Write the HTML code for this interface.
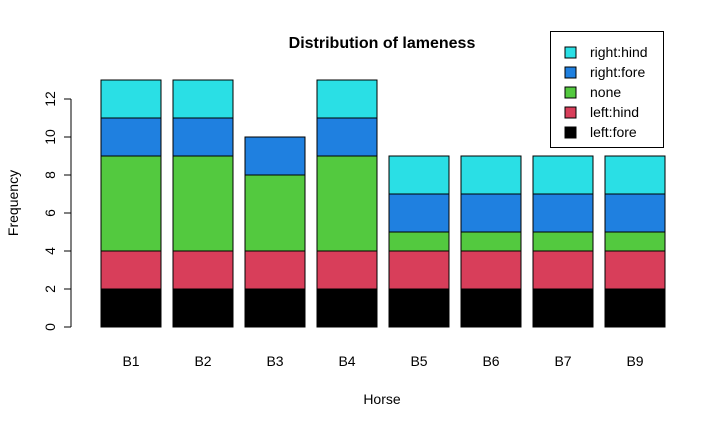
<!DOCTYPE html>
<html><head><meta charset="utf-8"><style>
html,body{margin:0;padding:0;background:#fff;}
svg{display:block;font-family:"Liberation Sans",Arial,sans-serif;}
</style></head><body>
<svg id="c" width="726" height="428" viewBox="0 0 726 428">
<text x="382" y="48" text-anchor="middle" font-weight="bold" font-size="16">Distribution of lameness</text>
<text x="382" y="404" text-anchor="middle" font-size="14">Horse</text>
<text transform="translate(18,203) rotate(-90)" text-anchor="middle" font-size="14">Frequency</text>
<g id="bars"></g><g id="yaxis"></g><g id="xlabels"></g><g id="legend"></g>
</svg>
<script>
const categories = ["B1","B2","B3","B4","B5","B6","B7","B9"];
const leftFore  = [2,2,2,2,2,2,2,2];
const leftHind  = [2,2,2,2,2,2,2,2];
const none      = [5,5,4,5,1,1,1,1];
const rightFore = [2,2,2,2,2,2,2,2];
const rightHind = [2,2,0,2,2,2,2,2];
const yTicks = [0,2,4,6,8,10,12];
const seriesNames = ["left:fore","left:hind","none","right:fore","right:hind"];
const seriesColors = ["#000000","#D83E5A","#53C93F","#1F80E0","#2ADFE5"];
const seriesData = [leftFore,leftHind,none,rightFore,rightHind];

const NS="http://www.w3.org/2000/svg";
function y(v){return 327 - v*19;}
function xLeft(i){return 101 + i*72;}
const barW=60;
function mk(tag,attrs,parent){const e=document.createElementNS(NS,tag);for(const k in attrs)e.setAttribute(k,attrs[k]);parent.appendChild(e);return e;}

const gb=document.getElementById("bars");
categories.forEach((c,i)=>{
  let cum=0;
  seriesData.forEach((s,j)=>{
    const v=s[i];
    const r=mk("rect",{x:xLeft(i),y:y(cum+v),width:barW,height:Math.max(0,y(cum)-y(cum+v)),fill:seriesColors[j],stroke:"#000","stroke-width":1},gb);
    
    
    cum+=v;
  });
  const t=mk("text",{x:xLeft(i)+barW/2,y:366,"text-anchor":"middle","font-size":14},document.getElementById("xlabels"));
  t.textContent=c;
  
  
});

const gy=document.getElementById("yaxis");
const ax=mk("line",{x1:71,x2:71,y1:y(yTicks[0]),y2:y(yTicks[yTicks.length-1]),stroke:"#000"},gy);


yTicks.forEach(v=>{
  const l=mk("line",{x1:64,x2:71,y1:y(v),y2:y(v),stroke:"#000"},gy);
  
  
  const t=mk("text",{transform:"translate(55,"+y(v)+") rotate(-90)","text-anchor":"middle","font-size":14},gy);
  t.textContent=v;
  
  
});

const gl=document.getElementById("legend");
const box=mk("rect",{x:550.5,y:31.5,width:113,height:116,fill:"#fff",stroke:"#000"},gl);


for(let k=seriesNames.length-1,row=0;k>=0;k--,row++){
  const cy=52+row*20;
  const sw=mk("rect",{x:565,y:cy-5,width:11,height:11,fill:seriesColors[k],stroke:"#000"},gl);
  
  
  const t=mk("text",{x:590,y:cy+5,"font-size":14},gl);
  t.textContent=seriesNames[k];
  
  
}
</script>
</body></html>
